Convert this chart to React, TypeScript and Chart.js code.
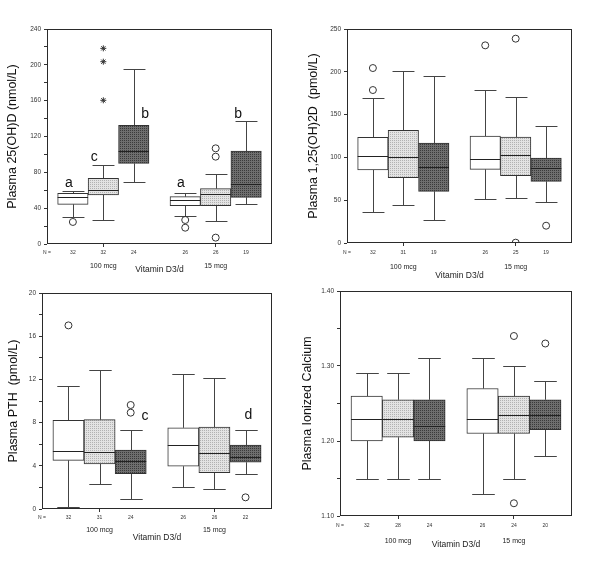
import React, { useEffect, useRef } from "react";
import { Chart, registerables } from "chart.js";
Chart.register(...registerables);

const FONT = "'Liberation Sans', Arial, Helvetica, sans-serif";
Chart.defaults.font.family = FONT;

// ---- shared categories ----
const BOX_POS = [0.85, 1.85, 2.85, 4.54, 5.54, 6.54];
const X_MAX = 7.39;
const GROUP_POS = [1.85, 5.54];
const GROUP_LABELS = ["100 mcg", "15 mcg"];
const X_TITLE = "Vitamin D3/d";
const N_PREFIX = "N =";

// ---- Panel 1: 25(OH)D ----
const OHD_TITLE = "Plasma 25(OH)D (nmol/L)";
const OHD_LOW = [30.5, 26.8, 69.6, 31.6, 25.3, 44.7];
const OHD_Q1 = [44.3, 54.7, 90, 42.8, 42.8, 52.1];
const OHD_MED = [52, 60, 103.8, 49.1, 55.4, 67.3];
const OHD_Q3 = [56.6, 73.3, 132.5, 52.8, 61.8, 103.8];
const OHD_HIGH = [59.5, 87.8, 195.3, 57.3, 78.1, 137.7];
const OHD_N = ["32", "32", "24", "26", "26", "19"];
const OHD_OUTLIERS = [[0, 24.6], [3, 26.8], [3, 18.2], [4, 106.8], [4, 97.5], [4, 7.1]];
const OHD_EXTREMES = [[1, 218.4], [1, 203.5], [1, 160.4]];
const OHD_LETTERS: [string, number, number][] = [["a", 0.72, 64], ["c", 1.55, 93], ["b", 3.22, 141], ["a", 4.4, 64], ["b", 6.28, 141]];

// ---- Panel 2: 1,25(OH)2D ----
const D2_TITLE = "Plasma 1,25(OH)2D  (pmol/L)";
const D2_LOW = [36.2, 44.8, 26.5, 51.4, 52.6, 47.5];
const D2_Q1 = [85.3, 76.3, 60.4, 86, 78.7, 72];
const D2_MED = [101.2, 100, 88.8, 98.5, 102.8, 87.6];
const D2_Q3 = [123.4, 131.6, 116.8, 125, 123.8, 99.3];
const D2_HIGH = [169.4, 201.3, 195.1, 179.1, 170.2, 136.7];
const D2_N = ["32", "31", "19", "26", "25", "19"];
const D2_OUTLIERS = [[0, 204.4], [0, 178.7], [3, 230.9], [4, 238.7], [4, 0.4], [5, 20.2]];

// ---- Panel 3: PTH ----
const PTH_TITLE = "Plasma PTH  (pmol/L)";
const PTH_LOW = [0.2, 2.29, 0.93, 2.04, 1.86, 3.25];
const PTH_Q1 = [4.5, 4.18, 3.28, 3.96, 3.37, 4.33];
const PTH_MED = [5.4, 5.26, 4.4, 5.88, 5.14, 4.83];
const PTH_Q3 = [8.2, 8.27, 5.45, 7.52, 7.58, 5.91];
const PTH_HIGH = [11.4, 12.85, 7.28, 12.48, 12.1, 7.28];
const PTH_N = ["32", "31", "24", "26", "26", "22"];
const PTH_OUTLIERS = [[0, 17.0], [2, 9.63], [2, 8.92], [5, 1.08]];
const PTH_LETTERS: [string, number, number][] = [["c", 3.31, 8.24], ["d", 6.63, 8.3]];

// ---- Panel 4: Ionized calcium ----
const CA_TITLE = "Plasma Ionized Calcium";
const CA_LOW = [1.15, 1.15, 1.15, 1.13, 1.15, 1.18];
const CA_Q1 = [1.2, 1.205, 1.2, 1.21, 1.21, 1.215];
const CA_MED = [1.23, 1.23, 1.22, 1.23, 1.235, 1.235];
const CA_Q3 = [1.26, 1.255, 1.255, 1.27, 1.26, 1.255];
const CA_HIGH = [1.29, 1.29, 1.31, 1.31, 1.3, 1.28];
const CA_N = ["32", "28", "24", "26", "24", "20"];
const CA_OUTLIERS = [[4, 1.34], [4, 1.117], [5, 1.33]];

const FRAME = "#2a2a2a";
const WHISKER = "#444";
const TEXT = "#222";

type PanelCfg = {
  title: string;
  low: number[]; q1: number[]; med: number[]; q3: number[]; high: number[];
  n: string[];
  outliers: number[][];
  extremes: number[][];
  letters: [string, number, number][];
  yMin: number; yMax: number; yStep: number; isMajor: (v: number) => boolean; fmt: (v: number) => string;
  // layout
  left: number; top: number; w: number; h: number;
  L: number; R: number; T: number; B: number;
  dyC: number; dyG: number; dyT: number; titleX: number;
};

const PANELS: PanelCfg[] = [
  {
    title: OHD_TITLE, low: OHD_LOW, q1: OHD_Q1, med: OHD_MED, q3: OHD_Q3, high: OHD_HIGH, n: OHD_N,
    outliers: OHD_OUTLIERS, extremes: OHD_EXTREMES, letters: OHD_LETTERS,
    yMin: 0, yMax: 240, yStep: 20, isMajor: (v) => Math.round(v) % 40 === 0, fmt: (v) => String(Math.round(v)),
    left: 0, top: 0, w: 300, h: 294, L: 47, R: 272, T: 29, B: 244, dyC: 8.5, dyG: 22.5, dyT: 25.5, titleX: 13,
  },
  {
    title: D2_TITLE, low: D2_LOW, q1: D2_Q1, med: D2_MED, q3: D2_Q3, high: D2_HIGH, n: D2_N,
    outliers: D2_OUTLIERS, extremes: [], letters: [],
    yMin: 0, yMax: 250, yStep: 50, isMajor: () => true, fmt: (v) => String(Math.round(v)),
    left: 300, top: 0, w: 300, h: 294, L: 47, R: 272, T: 29, B: 243, dyC: 9.5, dyG: 24, dyT: 33, titleX: 14,
  },
  {
    title: PTH_TITLE, low: PTH_LOW, q1: PTH_Q1, med: PTH_MED, q3: PTH_Q3, high: PTH_HIGH, n: PTH_N,
    outliers: PTH_OUTLIERS, extremes: [], letters: PTH_LETTERS,
    yMin: 0, yMax: 20, yStep: 2, isMajor: (v) => Math.round(v) % 4 === 0, fmt: (v) => String(Math.round(v)),
    left: 0, top: 280, w: 300, h: 308, L: 42, R: 272, T: 13, B: 229, dyC: 9, dyG: 21, dyT: 29, titleX: 13.5,
  },
  {
    title: CA_TITLE, low: CA_LOW, q1: CA_Q1, med: CA_MED, q3: CA_Q3, high: CA_HIGH, n: CA_N,
    outliers: CA_OUTLIERS, extremes: [], letters: [],
    yMin: 1.1, yMax: 1.4, yStep: 0.05, isMajor: (v) => Math.round(v * 100) % 10 === 0, fmt: (v) => v.toFixed(2),
    left: 300, top: 280, w: 300, h: 308, L: 40, R: 272, T: 11, B: 236, dyC: 10, dyG: 25, dyT: 29, titleX: 7.5,
  },
];

function makePattern(base: string, dot: string) {
  const c = document.createElement("canvas");
  c.width = 2;
  c.height = 2;
  const g = c.getContext("2d")!;
  g.fillStyle = base;
  g.fillRect(0, 0, 2, 2);
  g.fillStyle = dot;
  g.fillRect(0, 0, 1, 1);
  return g.createPattern(c, "repeat")!;
}

function makeBoxPlugin(p: PanelCfg) {
  return {
    id: "boxExtras",
    beforeDatasetsDraw(chart: any) {
      const { ctx } = chart;
      const xs = chart.scales.x;
      const ys = chart.scales.y;
      const unit = xs.getPixelForValue(1) - xs.getPixelForValue(0);
      const half = unit * 0.36;
      ctx.save();
      ctx.strokeStyle = WHISKER;
      ctx.lineWidth = 1;
      BOX_POS.forEach((pos, i) => {
        const x = Math.round(xs.getPixelForValue(pos)) + 0.5;
        const yHi = Math.round(ys.getPixelForValue(p.high[i])) + 0.5;
        const yQ3 = ys.getPixelForValue(p.q3[i]);
        const yQ1 = ys.getPixelForValue(p.q1[i]);
        const yLo = Math.round(ys.getPixelForValue(p.low[i])) + 0.5;
        ctx.beginPath();
        ctx.moveTo(x, yQ3);
        ctx.lineTo(x, yHi);
        ctx.moveTo(x - half, yHi);
        ctx.lineTo(x + half, yHi);
        ctx.moveTo(x, yQ1);
        ctx.lineTo(x, yLo);
        ctx.moveTo(x - half, yLo);
        ctx.lineTo(x + half, yLo);
        ctx.stroke();
      });
      ctx.restore();
    },
    afterDatasetsDraw(chart: any) {
      const { ctx } = chart;
      const xs = chart.scales.x;
      const ys = chart.scales.y;
      const unit = xs.getPixelForValue(1) - xs.getPixelForValue(0);
      ctx.save();
      ctx.strokeStyle = "#222";
      ctx.lineWidth = 1;
      BOX_POS.forEach((pos, i) => {
        const x = xs.getPixelForValue(pos);
        const y = Math.round(ys.getPixelForValue(p.med[i])) + 0.5;
        ctx.beginPath();
        ctx.moveTo(x - unit / 2, y);
        ctx.lineTo(x + unit / 2, y);
        ctx.stroke();
      });
      ctx.fillStyle = "#111";
      ctx.font = `14px ${FONT}`;
      ctx.textAlign = "center";
      ctx.textBaseline = "alphabetic";
      p.letters.forEach(([t, xv, yv]) => {
        ctx.fillText(t, xs.getPixelForValue(xv), ys.getPixelForValue(yv));
      });
      ctx.restore();
    },
    afterDraw(chart: any) {
      const { ctx, chartArea: a } = chart;
      ctx.save();
      ctx.strokeStyle = FRAME;
      ctx.lineWidth = 1;
      const l = Math.round(a.left) + 0.5;
      const t = Math.round(a.top) + 0.5;
      const r = Math.round(a.right) - 0.5;
      const b = Math.round(a.bottom) - 0.5;
      ctx.strokeRect(l, t, r - l, b - t);
      ctx.restore();
    },
  };
}

function Panel({ p }: { p: PanelCfg }) {
  const ref = useRef<HTMLCanvasElement>(null);
  useEffect(() => {
    const light = makePattern("#e3e3e3", "#b2b2b2");
    const dark = makePattern("#6e6e6e", "#3a3a3a");
    const fills = ["#ffffff", light, dark, "#ffffff", light, dark];
    const hC = 14;
    const padC = p.dyC - 6;
    const padG = p.dyG - hC - 4.2;
    const hG = p.dyT + 5.1 - hC;
    const padBottom = p.h - (p.B + p.dyT + 5.1);

    const chart = new Chart(ref.current!, {
      type: "bar",
      data: {
        datasets: [
          {
            type: "bar",
            data: BOX_POS.map((x, i) => ({ x, y: [p.q1[i], p.q3[i]] })) as any,
            backgroundColor: fills as any,
            borderColor: "#333",
            borderWidth: 1,
            borderSkipped: false,
            barPercentage: 1,
            categoryPercentage: 1,
            xAxisID: "x",
          },
          {
            type: "scatter",
            data: p.outliers.map(([i, v]) => ({ x: BOX_POS[i], y: v })),
            pointStyle: "circle",
            pointRadius: 3.5,
            backgroundColor: "rgba(255,255,255,0)",
            borderColor: "#333",
            borderWidth: 1,
            xAxisID: "x",
          } as any,
          {
            type: "scatter",
            data: p.extremes.map(([i, v]) => ({ x: BOX_POS[i], y: v })),
            pointStyle: "star",
            pointRadius: 3,
            backgroundColor: "#333",
            borderColor: "#333",
            borderWidth: 1,
            xAxisID: "x",
          } as any,
        ],
      },
      options: {
        responsive: false,
        animation: false,
        layout: { padding: { left: 0, right: p.w - p.R, top: p.T, bottom: padBottom } },
        plugins: { legend: { display: false }, tooltip: { enabled: false } },
        scales: {
          x: {
            type: "linear",
            display: false,
            min: 0,
            max: X_MAX,
            offset: false,
            weight: 0,
            grid: { offset: false },
            afterBuildTicks: (s: any) => {
              s.ticks = BOX_POS.map((v) => ({ value: v }));
            },
          },
          xc: {
            type: "linear",
            position: "bottom",
            min: 0,
            max: X_MAX,
            offset: false,
            weight: 1,
            afterBuildTicks: (s: any) => {
              s.ticks = [{ value: 0 }, ...BOX_POS.map((v) => ({ value: v }))];
            },
            ticks: {
              autoSkip: false,
              maxRotation: 0,
              minRotation: 0,
              font: { size: 5 },
              color: "#333",
              padding: padC,
              callback: (_v: any, i: number) => (i === 0 ? N_PREFIX : p.n[i - 1]),
            },
            grid: {
              offset: false,
              drawOnChartArea: false,
              drawTicks: true,
              tickLength: 3,
              color: (c: any) => (c.index === 2 || c.index === 5 ? "#333" : "rgba(0,0,0,0)"),
            },
            border: { display: false },
            afterFit: (s: any) => {
              s.height = hC;
            },
          } as any,
          xg: {
            type: "linear",
            position: "bottom",
            min: 0,
            max: X_MAX,
            offset: false,
            weight: 2,
            afterBuildTicks: (s: any) => {
              s.ticks = GROUP_POS.map((v) => ({ value: v }));
            },
            ticks: {
              autoSkip: false,
              maxRotation: 0,
              minRotation: 0,
              font: { size: 7 },
              color: TEXT,
              padding: padG,
              callback: (_v: any, i: number) => GROUP_LABELS[i],
            },
            grid: { display: false, drawTicks: false, offset: false },
            border: { display: false },
            title: { display: true, text: X_TITLE, font: { size: 8.5 }, color: TEXT, padding: 0 },
            afterFit: (s: any) => {
              s.height = hG;
            },
          } as any,
          y: {
            type: "linear",
            min: p.yMin,
            max: p.yMax,
            beginAtZero: false,
            ticks: {
              stepSize: p.yStep,
              autoSkip: false,
              font: { size: 6.5 },
              color: "#333",
              padding: 3,
              callback: (v: any) => (p.isMajor(Number(v)) ? p.fmt(Number(v)) : ""),
            },
            grid: { drawOnChartArea: false, drawTicks: true, tickLength: 3, color: "#333" },
            border: { display: false },
            title: {
              display: true,
              text: p.title,
              font: { size: 12.5 },
              color: "#111",
              padding: { top: p.titleX - 7.5, bottom: 0 },
            },
            afterFit: (s: any) => {
              s.width = p.L;
            },
          } as any,
        },
      },
      plugins: [makeBoxPlugin(p)],
    });
    return () => chart.destroy();
  }, [p]);
  return (
    <canvas
      ref={ref}
      width={p.w}
      height={p.h}
      style={{ position: "absolute", left: p.left, top: p.top, width: p.w, height: p.h }}
    />
  );
}

export default function App() {
  return (
    <div style={{ position: "absolute", left: 0, top: 0, width: 600, height: 588, background: "#fff" }}>
      {PANELS.map((p, i) => (
        <Panel key={i} p={p} />
      ))}
    </div>
  );
}
